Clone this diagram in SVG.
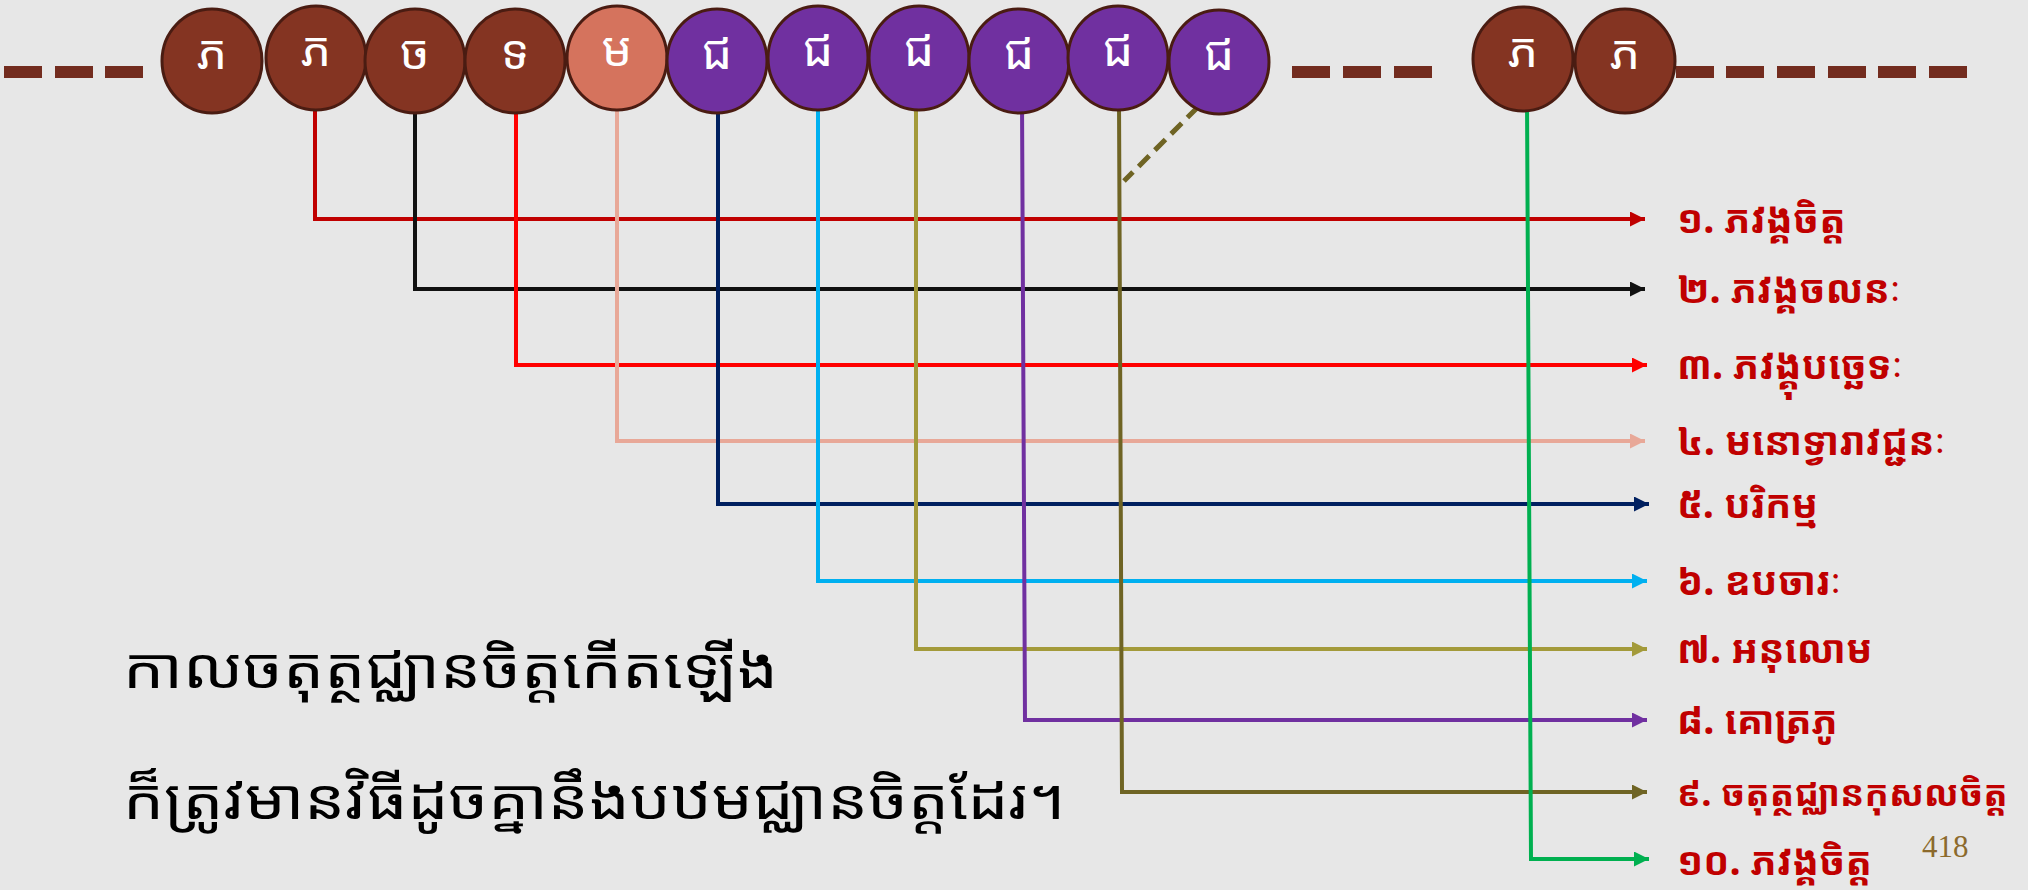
<svg xmlns="http://www.w3.org/2000/svg" width="2028" height="890" viewBox="0 0 2028 890">
<style>
.bg{fill:#E7E7E7}
.dash{fill:#732C1F}
.node ellipse{stroke:#4A1C12;stroke-width:3}
.brown{fill:#843422}
.salmon{fill:#D5735D}
.purple{fill:#7030A0}
.nt{fill:#FFFFFF;font-family:"Khmer OS","Khmer OS System","Noto Sans Khmer","Noto Serif Khmer","Noto Sans",sans-serif;font-size:48px;text-anchor:middle}
.c{fill:none;stroke-width:4;stroke-linejoin:miter}
.lbl{fill:#C00000;font-family:"Khmer OS Battambang","Noto Sans Khmer","Noto Serif Khmer","Noto Sans",sans-serif;font-size:39px;font-weight:bold}
.big{fill:#000000;font-family:"Khmer OS Siemreap","Noto Sans Khmer","Noto Serif Khmer","Noto Sans",sans-serif;font-size:56px}
.pg{fill:#8C6A2C;font-family:"Liberation Serif",serif;font-size:31px}
</style>
<defs>
<marker id="m1" viewBox="0 0 15 15" markerWidth="15" markerHeight="15" refX="15" refY="7.5" orient="auto" markerUnits="userSpaceOnUse"><path d="M0,0L15,7.5L0,15z" fill="#C00000"/></marker>
<marker id="m2" viewBox="0 0 15 15" markerWidth="15" markerHeight="15" refX="15" refY="7.5" orient="auto" markerUnits="userSpaceOnUse"><path d="M0,0L15,7.5L0,15z" fill="#111111"/></marker>
<marker id="m3" viewBox="0 0 15 15" markerWidth="15" markerHeight="15" refX="15" refY="7.5" orient="auto" markerUnits="userSpaceOnUse"><path d="M0,0L15,7.5L0,15z" fill="#FF0000"/></marker>
<marker id="m4" viewBox="0 0 15 15" markerWidth="15" markerHeight="15" refX="15" refY="7.5" orient="auto" markerUnits="userSpaceOnUse"><path d="M0,0L15,7.5L0,15z" fill="#E8A898"/></marker>
<marker id="m5" viewBox="0 0 15 15" markerWidth="15" markerHeight="15" refX="15" refY="7.5" orient="auto" markerUnits="userSpaceOnUse"><path d="M0,0L15,7.5L0,15z" fill="#002060"/></marker>
<marker id="m6" viewBox="0 0 15 15" markerWidth="15" markerHeight="15" refX="15" refY="7.5" orient="auto" markerUnits="userSpaceOnUse"><path d="M0,0L15,7.5L0,15z" fill="#00B0F0"/></marker>
<marker id="m7" viewBox="0 0 15 15" markerWidth="15" markerHeight="15" refX="15" refY="7.5" orient="auto" markerUnits="userSpaceOnUse"><path d="M0,0L15,7.5L0,15z" fill="#A39A3A"/></marker>
<marker id="m8" viewBox="0 0 15 15" markerWidth="15" markerHeight="15" refX="15" refY="7.5" orient="auto" markerUnits="userSpaceOnUse"><path d="M0,0L15,7.5L0,15z" fill="#7030A0"/></marker>
<marker id="m9" viewBox="0 0 15 15" markerWidth="15" markerHeight="15" refX="15" refY="7.5" orient="auto" markerUnits="userSpaceOnUse"><path d="M0,0L15,7.5L0,15z" fill="#6F6424"/></marker>
<marker id="m10" viewBox="0 0 15 15" markerWidth="15" markerHeight="15" refX="15" refY="7.5" orient="auto" markerUnits="userSpaceOnUse"><path d="M0,0L15,7.5L0,15z" fill="#00B050"/></marker>
</defs>
<rect class="bg" x="0" y="0" width="2028" height="890"/>
<g id="timeline-dashes">
<rect class="dash" x="4" y="66" width="38" height="12"/>
<rect class="dash" x="55" y="66" width="38" height="12"/>
<rect class="dash" x="105" y="66" width="38" height="12"/>
<rect class="dash" x="1292" y="66" width="38" height="12"/>
<rect class="dash" x="1343" y="66" width="38" height="12"/>
<rect class="dash" x="1394" y="66" width="38" height="12"/>
<rect class="dash" x="1676" y="66" width="38" height="12"/>
<rect class="dash" x="1726" y="66" width="38" height="12"/>
<rect class="dash" x="1777" y="66" width="38" height="12"/>
<rect class="dash" x="1828" y="66" width="38" height="12"/>
<rect class="dash" x="1878" y="66" width="38" height="12"/>
<rect class="dash" x="1929" y="66" width="38" height="12"/>
</g>
<g id="connectors">
<path class="c" stroke="#C00000" marker-end="url(#m1)" d="M315,100V219H1645"/>
<path class="c" stroke="#111111" marker-end="url(#m2)" d="M415,100V289H1645"/>
<path class="c" stroke="#FF0000" marker-end="url(#m3)" d="M516,100V365H1647"/>
<path class="c" stroke="#E8A898" marker-end="url(#m4)" d="M617,100V441H1645"/>
<path class="c" stroke="#002060" marker-end="url(#m5)" d="M718,100V504H1649"/>
<path class="c" stroke="#00B0F0" marker-end="url(#m6)" d="M818,100V581H1647"/>
<path class="c" stroke="#A39A3A" marker-end="url(#m7)" d="M916,100V649H1647"/>
<path class="c" stroke="#7030A0" marker-end="url(#m8)" d="M1022,100L1025,720H1647"/>
<path class="c" stroke="#6F6424" marker-end="url(#m9)" d="M1119,100L1122,792H1647"/>
<path class="c" stroke="#00B050" marker-end="url(#m10)" d="M1527,100L1531,859H1649"/>
<path fill="none" stroke="#6F6424" stroke-width="5" stroke-dasharray="15 8" d="M1198,107L1124,181"/>
</g>
<g id="n1" class="node"><ellipse class="brown" cx="212" cy="61" rx="50" ry="52"/><text class="nt" x="212" y="69">ភ</text></g>
<g id="n2" class="node"><ellipse class="brown" cx="316" cy="58" rx="50" ry="52"/><text class="nt" x="316" y="66">ភ</text></g>
<g id="n3" class="node"><ellipse class="brown" cx="415" cy="61" rx="50" ry="52"/><text class="nt" x="415" y="69">ច</text></g>
<g id="n4" class="node"><ellipse class="brown" cx="515" cy="61" rx="50" ry="52"/><text class="nt" x="515" y="69">ទ</text></g>
<g id="n5" class="node"><ellipse class="salmon" cx="617" cy="58" rx="50" ry="52"/><text class="nt" x="617" y="66">ម</text></g>
<g id="n6" class="node"><ellipse class="purple" cx="717" cy="61" rx="50" ry="52"/><text class="nt" x="717" y="69">ជ</text></g>
<g id="n7" class="node"><ellipse class="purple" cx="818" cy="58" rx="50" ry="52"/><text class="nt" x="818" y="66">ជ</text></g>
<g id="n8" class="node"><ellipse class="purple" cx="919" cy="58" rx="50" ry="52"/><text class="nt" x="919" y="66">ជ</text></g>
<g id="n9" class="node"><ellipse class="purple" cx="1019" cy="61" rx="50" ry="52"/><text class="nt" x="1019" y="69">ជ</text></g>
<g id="n10" class="node"><ellipse class="purple" cx="1118" cy="58" rx="50" ry="52"/><text class="nt" x="1118" y="66">ជ</text></g>
<g id="n11" class="node"><ellipse class="purple" cx="1219" cy="62" rx="50" ry="52"/><text class="nt" x="1219" y="70">ជ</text></g>
<g id="n12" class="node"><ellipse class="brown" cx="1523" cy="59" rx="50" ry="52"/><text class="nt" x="1523" y="67">ភ</text></g>
<g id="n13" class="node"><ellipse class="brown" cx="1625" cy="61" rx="50" ry="52"/><text class="nt" x="1625" y="69">ភ</text></g>
<g id="labels">
<text class="lbl" x="1677" y="233">១. ភវង្គចិត្ត</text>
<text class="lbl" x="1677" y="303">២. ភវង្គចលនៈ</text>
<text class="lbl" x="1677" y="379">៣. ភវង្គុបច្ឆេទៈ</text>
<text class="lbl" x="1677" y="455">៤. មនោទ្វារាវជ្ជនៈ</text>
<text class="lbl" x="1677" y="518">៥. បរិកម្ម</text>
<text class="lbl" x="1677" y="595">៦. ឧបចារៈ</text>
<text class="lbl" x="1677" y="663">៧. អនុលោម</text>
<text class="lbl" x="1677" y="734">៨. គោត្រភូ</text>
<text class="lbl" x="1677" y="806" style="font-size:36px">៩. ចតុត្ថជ្ឈានកុសលចិត្ត</text>
<text class="lbl" x="1677" y="875">១០. ភវង្គចិត្ត</text>
</g>
<g id="caption">
<text class="big" x="123" y="688" textLength="655" lengthAdjust="spacingAndGlyphs">កាលចតុត្ថជ្ឈានចិត្តកើតឡើង</text>
<text class="big" x="123" y="819" textLength="942" lengthAdjust="spacingAndGlyphs">ក៏ត្រូវមានវិធីដូចគ្នានឹងបឋមជ្ឈានចិត្តដែរ។</text>
</g>
<text class="pg" x="1922" y="857">418</text>
</svg>
